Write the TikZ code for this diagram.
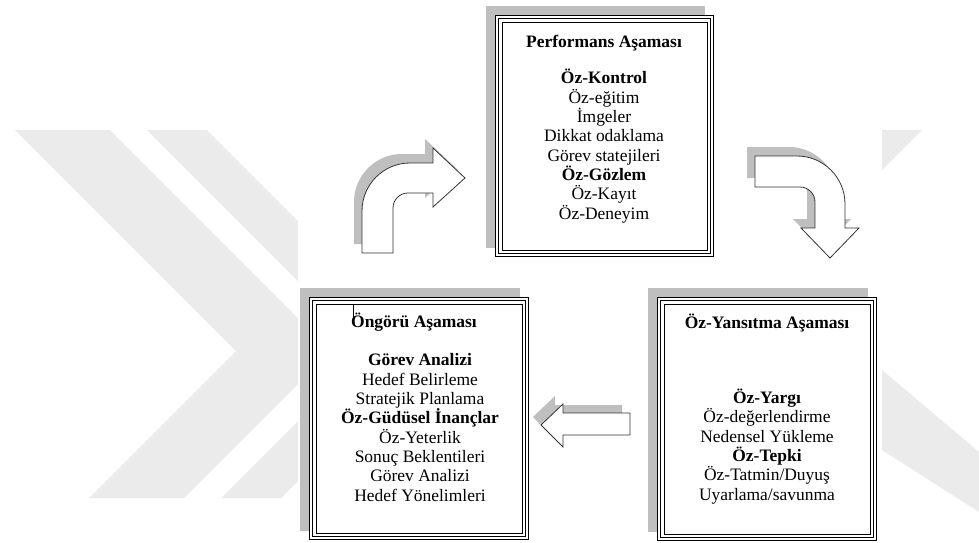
\documentclass[tikz,border=0pt]{standalone}
\usepackage{fontspec}
\setmainfont{Liberation Serif}
\tikzset{
  mark band/.style={fill=black!8,draw=none},
  drop shadow fill/.style={fill=black!25,draw=none},
  block arrow/.style={fill=white,draw=black!80,line width=0.6pt,line join=miter},
  phase text/.style={align=center,inner sep=0pt,anchor=north,font=\fontsize{13.1pt}{14.5pt}\selectfont}
}

\begin{document}
\begin{tikzpicture}[x=0.75pt,y=-0.75pt]
  \useasboundingbox (0,0) rectangle (979,543);
  % watermark in the back
  \fill[mark band] (15,130) -- (110,130) -- (331,351) -- (184,498) -- (89,498) -- (236,351) -- cycle;
  \fill[mark band] (147,130) -- (207,130) -- (428,351) -- (281,498) -- (221,498) -- (368,351) -- cycle;
  \fill[mark band] (882,130) -- (922,130) -- (882,170) -- cycle;
  \fill[mark band] (882,370) -- (979,452) -- (979,512) -- (882,450) -- cycle;
  \fill[white] (298,0) rectangle (882,543);
  % boxes
  \def\phasebox#1#2#3#4{
    \fill[drop shadow fill] (#1-9,#2-9) rectangle (#3-9,#4-9);
    \fill[white] (#1,#2) rectangle (#3,#4);
    \draw[line width=0.5pt] (#1+0.5,#2+0.5) rectangle (#3-0.5,#4-0.5);
    \draw[line width=1.3pt] (#1+3.5,#2+3.5) rectangle (#3-3.5,#4-3.5);
    \draw[line width=0.5pt] (#1+7,#2+7) rectangle (#3-7,#4-7);
  }
  \phasebox{495}{15}{714}{257}
  \phasebox{309}{297}{529}{540}
  \phasebox{657}{297}{877}{541}
  % block arrows
  \def\upturn#1{\path[#1] (362,253) -- (362,211) arc[start angle=180,end angle=270,radius=48]
    -- (433,163) -- (433,148) -- (465,178) -- (433,207) -- (433,193) -- (408,193)
    arc[start angle=270,end angle=180,radius=15] -- (393,253) -- cycle;}
  \def\downturn#1{\path[#1] (755,156) -- (797,156) arc[start angle=270,end angle=360,radius=48]
    -- (845,228) -- (859,228) -- (830,258) -- (801,228) -- (815,228) -- (815,202)
    arc[start angle=0,end angle=-90,radius=15] -- (755,187) -- cycle;}
  \def\backarrow#1{\path[#1] (630,413) -- (563,413) -- (563,404) -- (541,425) -- (563,447)
    -- (563,435) -- (630,435) -- cycle;}
  \upturn{drop shadow fill,shift={(-8,-9)}}
  \downturn{drop shadow fill,shift={(-8,-9)}}
  \backarrow{drop shadow fill,shift={(-8,-8)}}
  \upturn{block arrow}
  \downturn{block arrow}
  \backarrow{block arrow}
  % texts
  \node[phase text] (perf) at (604,31.5) {\rule{0pt}{12pt}\textbf{Performans Aşaması}\\[12.5pt]
    \textbf{Öz-Kontrol}\\ Öz-eğitim\\ İmgeler\\ Dikkat odaklama\\ Görev statejileri\\
    \textbf{Öz-Gözlem}\\ Öz-Kayıt\\ Öz-Deneyim};
  \node[phase text] (ongoru) at (420,311.5) {\rule{0pt}{12pt}\hspace*{-9pt}\textbf{Öngörü Aşaması}\\[14pt]
    \textbf{Görev Analizi}\\ Hedef Belirleme\\ Stratejik Planlama\\ \textbf{Öz-Güdüsel İnançlar}\\
    Öz-Yeterlik\\ Sonuç Beklentileri\\ Görev Analizi\\ Hedef Yönelimleri};
  \node[phase text] (yansitma) at (767,312.5) {\rule{0pt}{12pt}\textbf{Öz-Yansıtma Aşaması}\\[41.5pt]
    \textbf{Öz-Yargı}\\ Öz-değerlendirme\\ Nedensel Yükleme\\ \textbf{Öz-Tepki}\\
    Öz-Tatmin/Duyuş\\ Uyarlama/savunma};
  \draw[line width=0.9pt] (353.5,304) -- (353.5,323);
\end{tikzpicture}
\end{document}
